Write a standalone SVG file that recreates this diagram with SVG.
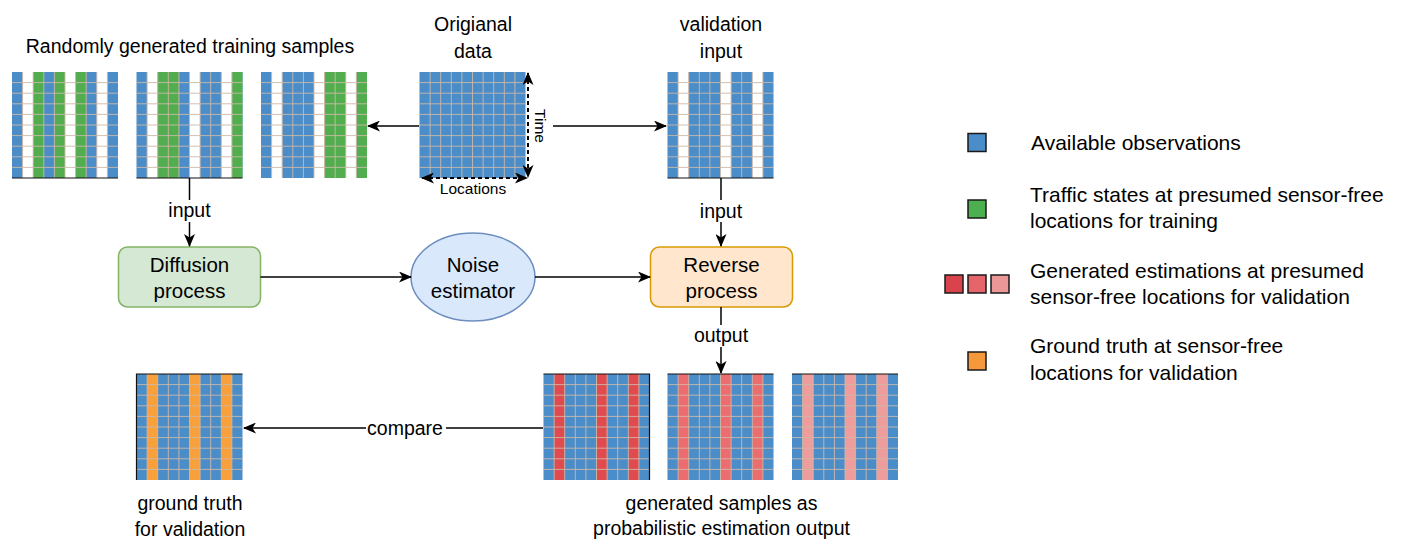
<svg xmlns="http://www.w3.org/2000/svg" xmlns:xlink="http://www.w3.org/1999/xlink" width="1409" height="552" viewBox="0 0 1409 552">
<style>
text{font-family:"Liberation Sans",Arial,sans-serif;fill:#000}
.t19{font-size:19.5px;text-anchor:middle}
.t20{font-size:20.5px;text-anchor:middle}
.lg{font-size:21px}
.sm{font-size:15.5px;text-anchor:middle}
.b{fill:#4b8dc8}
.w{fill:#fff}
.g{fill:#52ad4f}
.o{fill:#f8a03c}
.r1{fill:#e04b50}
.r2{fill:#ec6d70}
.r3{fill:#ef9d9c}
.gl{fill:none;stroke:#cdb9a8;stroke-width:0.9}
.edge{stroke:#111;stroke-width:1.2;fill:none}
.conn{stroke:#000;stroke-width:1.5;fill:none}
.dash{stroke:#000;stroke-width:2;fill:none;stroke-dasharray:4 3}
.lgs{stroke:#1a1a1a;stroke-width:1.5}
</style>
<defs>
<marker id="ah" viewBox="0 0 13 11" refX="12" refY="5.5" markerWidth="13" markerHeight="11" markerUnits="userSpaceOnUse" orient="auto-start-reverse">
<path d="M0,0 L13,5.5 L0,11 L3.5,5.5 z" fill="#000"/>
</marker>
<path id="gl" class="gl" d="M10.6 0V106M21.2 0V106M31.8 0V106M42.4 0V106M53 0V106M63.6 0V106M74.2 0V106M84.8 0V106M95.4 0V106M0 10.6H106M0 21.2H106M0 31.8H106M0 42.4H106M0 53H106M0 63.6H106M0 74.2H106M0 84.8H106M0 95.4H106"/>
</defs>
<rect width="1409" height="552" fill="#fff"/>

<!-- top labels -->
<text class="t19" x="190" y="53">Randomly generated training samples</text>
<text class="t19" x="473" y="31">Origianal</text>
<text class="t19" x="473" y="58">data</text>
<text class="t19" x="721" y="31">validation</text>
<text class="t19" x="721" y="58">input</text>

<!-- training sample 1: B W G B G W G B W B -->
<g id="train1" transform="translate(12,72)">
<rect class="b" width="106" height="106"/>
<rect class="w" x="10.6" width="10.6" height="106"/>
<rect class="g" x="21.2" width="10.6" height="106"/>
<rect class="g" x="42.4" width="10.6" height="106"/>
<rect class="w" x="53" width="10.6" height="106"/>
<rect class="g" x="63.6" width="10.6" height="106"/>
<rect class="w" x="84.8" width="10.6" height="106"/>
<use href="#gl"/>
<path class="edge" d="M0 106H106"/>
</g>

<!-- training sample 2: B W G G B W B B W G -->
<g id="train2" transform="translate(136.5,72)">
<rect class="b" width="106" height="106"/>
<rect class="w" x="10.6" width="10.6" height="106"/>
<rect class="g" x="21.2" width="21.2" height="106"/>
<rect class="w" x="53" width="10.6" height="106"/>
<rect class="w" x="84.8" width="10.6" height="106"/>
<rect class="g" x="95.4" width="10.6" height="106"/>
<use href="#gl"/>
<path class="edge" d="M0 106H106"/>
</g>

<!-- training sample 3: B W B B B W G G W G -->
<g id="train3" transform="translate(261,72)">
<rect class="b" width="106" height="106"/>
<rect class="w" x="10.6" width="10.6" height="106"/>
<rect class="w" x="53" width="10.6" height="106"/>
<rect class="g" x="63.6" width="21.2" height="106"/>
<rect class="w" x="84.8" width="10.6" height="106"/>
<rect class="g" x="95.4" width="10.6" height="106"/>
<use href="#gl"/>
</g>

<!-- original data -->
<g id="original" transform="translate(419.5,72)">
<rect class="b" width="106" height="106"/>
<use href="#gl"/>
</g>
<g id="axes">
<path class="dash" d="M528 73V177" marker-start="url(#ah)" marker-end="url(#ah)"/>
<path class="dash" d="M422 178H527" marker-start="url(#ah)" marker-end="url(#ah)"/>
<text class="sm" transform="translate(535,126) rotate(90)">Time</text>
<text class="sm" x="473" y="194">Locations</text>
</g>

<!-- validation input: B W B B B W B B W B -->
<g id="validation" transform="translate(667.5,72)">
<rect class="b" width="106" height="106"/>
<rect class="w" x="10.6" width="10.6" height="106"/>
<rect class="w" x="53" width="10.6" height="106"/>
<rect class="w" x="84.8" width="10.6" height="106"/>
<use href="#gl"/>
<path class="edge" d="M0 106H106"/>
</g>

<!-- process nodes -->
<g id="diffusion">
<rect x="118.5" y="247" width="142" height="60" rx="9" fill="#d5e8d4" stroke="#82b366" stroke-width="1.5"/>
<text class="t20" x="189.5" y="272">Diffusion</text>
<text class="t20" x="189.5" y="298">process</text>
</g>
<g id="noise">
<ellipse cx="473" cy="277" rx="62" ry="44" fill="#dae8fc" stroke="#6c8ebf" stroke-width="1.5"/>
<text class="t20" x="473" y="272">Noise</text>
<text class="t20" x="473" y="298">estimator</text>
</g>
<g id="reverse">
<rect x="650.5" y="247" width="142" height="60" rx="9" fill="#ffe6cc" stroke="#d79b00" stroke-width="1.5"/>
<text class="t20" x="721.5" y="272">Reverse</text>
<text class="t20" x="721.5" y="298">process</text>
</g>

<!-- ground truth: B O B B B O B B O B -->
<g id="groundtruth" transform="translate(136.5,374)">
<rect class="b" width="106" height="106"/>
<rect class="o" x="10.6" width="10.6" height="106"/>
<rect class="o" x="53" width="10.6" height="106"/>
<rect class="o" x="84.8" width="10.6" height="106"/>
<use href="#gl"/>
<path class="edge" d="M0 106V0H106"/>
</g>
<text class="t19" x="190" y="510">ground truth</text>
<text class="t19" x="190" y="536">for validation</text>

<!-- generated samples -->
<g id="gen1" transform="translate(543.5,374)">
<rect class="b" width="106" height="106"/>
<rect class="r1" x="10.6" width="10.6" height="106"/>
<rect class="r1" x="53" width="10.6" height="106"/>
<rect class="r1" x="84.8" width="10.6" height="106"/>
<use href="#gl"/>
<path class="edge" d="M0 0H106V106"/>
</g>
<g id="gen2" transform="translate(667.5,374)">
<rect class="b" width="106" height="106"/>
<rect class="r2" x="10.6" width="10.6" height="106"/>
<rect class="r2" x="53" width="10.6" height="106"/>
<rect class="r2" x="84.8" width="10.6" height="106"/>
<use href="#gl"/>
<path class="edge" d="M0 0H106"/>
</g>
<g id="gen3" transform="translate(792,374)">
<rect class="b" width="106" height="106"/>
<rect class="r3" x="10.6" width="10.6" height="106"/>
<rect class="r3" x="53" width="10.6" height="106"/>
<rect class="r3" x="84.8" width="10.6" height="106"/>
<use href="#gl"/>
<path class="edge" d="M0 0H106"/>
</g>
<text class="t19" x="721.5" y="510">generated samples as</text>
<text class="t19" x="721.5" y="535">probabilistic estimation output</text>

<!-- connectors -->
<g id="connectors">
<path class="conn" d="M419 126H368" marker-end="url(#ah)"/>
<path class="conn" d="M553 126H666" marker-end="url(#ah)"/>
<path class="conn" d="M189.5 178V246" marker-end="url(#ah)"/>
<path class="conn" d="M721 178V246" marker-end="url(#ah)"/>
<path class="conn" d="M260.5 277H411" marker-end="url(#ah)"/>
<path class="conn" d="M535 277H650" marker-end="url(#ah)"/>
<path class="conn" d="M721 307V373" marker-end="url(#ah)"/>
<path class="conn" d="M543 428H244" marker-end="url(#ah)"/>
<rect x="168" y="200" width="43" height="22" fill="#fff"/>
<text class="t19" x="189.5" y="217">input</text>
<rect x="699" y="200" width="44" height="22" fill="#fff"/>
<text class="t19" x="721" y="218">input</text>
<rect x="693" y="325" width="56" height="22" fill="#fff"/>
<text class="t19" x="721" y="342">output</text>
<rect x="366" y="417" width="80" height="22" fill="#fff"/>
<text class="t19" x="405" y="435">compare</text>
</g>

<!-- legend -->
<g id="legend">
<rect class="lgs" x="968" y="133.5" width="18" height="18" fill="#4b8dc8"/>
<text class="lg" x="1031" y="150">Available observations</text>
<rect class="lgs" x="968" y="200" width="18" height="18" fill="#4caf50"/>
<text class="lg" x="1030" y="202">Traffic states at presumed sensor-free</text>
<text class="lg" x="1030" y="228">locations for training</text>
<rect class="lgs" x="945" y="275" width="18" height="18" fill="#d9444c"/>
<rect class="lgs" x="968" y="275" width="18" height="18" fill="#e6656a"/>
<rect class="lgs" x="991" y="275" width="18" height="18" fill="#ec9797"/>
<text class="lg" x="1030" y="278">Generated estimations at presumed</text>
<text class="lg" x="1030" y="304">sensor-free locations for validation</text>
<rect class="lgs" x="968" y="352" width="18" height="18" fill="#f5993a"/>
<text class="lg" x="1030" y="353">Ground truth at sensor-free</text>
<text class="lg" x="1030" y="380">locations for validation</text>
</g>
</svg>
